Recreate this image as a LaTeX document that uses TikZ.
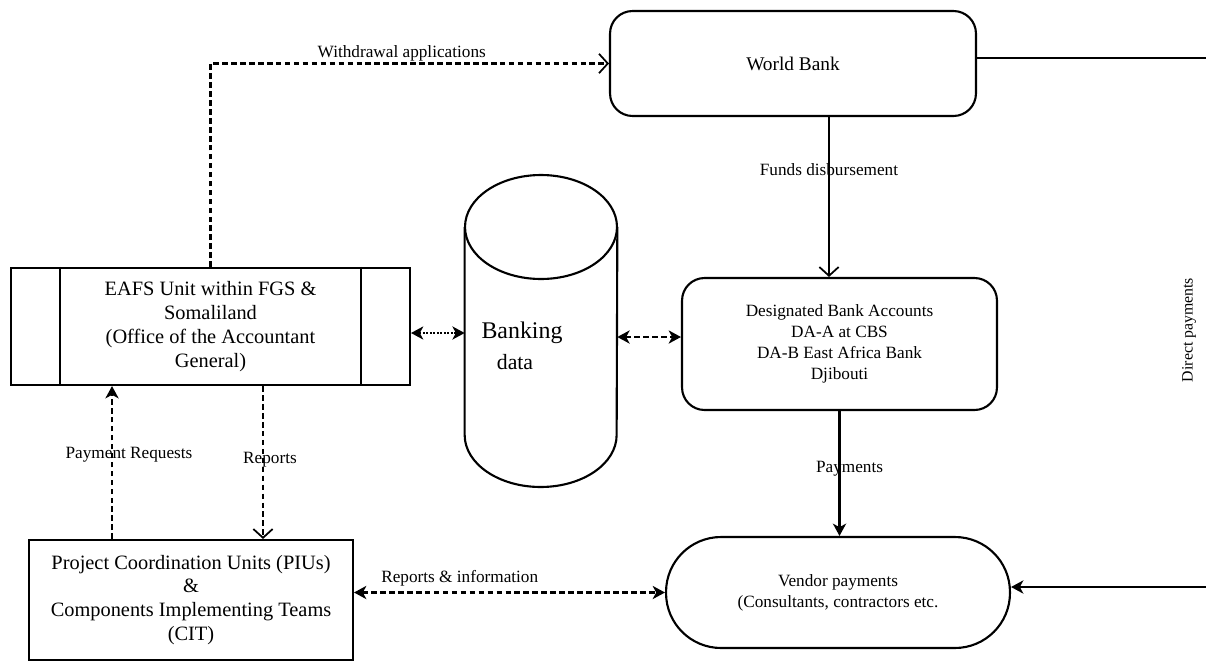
\documentclass[tikz,border=0pt]{standalone}
\usepackage{fontspec}
\usetikzlibrary{arrows.meta}
\setmainfont{Liberation Serif}
\newcommand{\bigtxt}{\fontsize{11.6}{13.6}\selectfont}
\newcommand{\midtxt}{\fontsize{9.8}{12}\selectfont}
\newcommand{\lbltxt}{\fontsize{9.8}{12}\selectfont}
\tikzset{
  stl/.tip={Stealth[length=7pt, width=7.5pt, inset=2pt]},
  opn/.tip={Straight Barb[length=5pt, width=11pt, line width=1pt]}
}

\begin{document}
\begin{tikzpicture}[x=0.02cm, y=-0.02cm]
  \tikzstyle{box}=[draw, line width=1.2pt, align=center, inner sep=0pt]
  \tikzstyle{rbox}=[box, rounded corners=0.45cm]
  \tikzstyle{lbl}=[font=\lbltxt, inner sep=1pt]
  \tikzstyle{dsh}=[dash pattern=on 3.2pt off 1.9pt, line width=1.2pt]
  \tikzstyle{arr}=[line width=1.3pt]
  \useasboundingbox (0,0) rectangle (1206,663);

  % boxes
  \node[rbox, minimum width=7.32cm, minimum height=2.1cm, font=\fontsize{11}{13}\selectfont] (wb) at (793,63.5) {World Bank};
  \node[rbox, minimum width=6.3cm, minimum height=2.64cm, font=\midtxt] (dba) at (839.5,344)
    {Designated Bank Accounts\\DA-A at CBS\\DA-B East Africa Bank\\Djibouti};
  \node[box, minimum width=7.98cm, minimum height=2.34cm, font=\bigtxt] (eafs) at (210.5,326.5)
    {EAFS Unit within FGS \&\\Somaliland\\(Office of the Accountant\\General)};
  \draw[line width=1.2pt] ([xshift=1cm]eafs.north west) -- ([xshift=1cm]eafs.south west);
  \draw[line width=1.2pt] ([xshift=-1cm]eafs.north east) -- ([xshift=-1cm]eafs.south east);
  \node[box, minimum width=6.48cm, minimum height=2.4cm, font=\bigtxt] (pcu) at (191,600)
    {Project Coordination Units (PIUs)\\\&\\Components Implementing Teams\\(CIT)};
  \node[box, rounded corners=1.1cm, minimum width=6.88cm, minimum height=2.22cm, font=\midtxt] (vendor) at (838,592.5)
    {Vendor payments\\(Consultants, contractors etc.};

  % banking data cylinder
  \node[minimum width=3.04cm, minimum height=6.24cm, inner sep=0pt] (bank) at (541,331) {};
  \draw[line width=1.2pt] (541,227) ellipse [x radius=1.52cm, y radius=1.04cm];
  \draw[line width=1.2pt] (bank.west |- 0,227) -- (bank.west |- 0,435)
    arc[start angle=180, end angle=360, x radius=1.52cm, y radius=1.04cm] -- (bank.east |- 0,227);
  \node[font=\fontsize{13.6}{16}\selectfont, inner sep=0pt] (banking) at (522,333) {Banking};
  \node[font=\fontsize{12.4}{15}\selectfont, inner sep=0pt] (data) at (515,362) {data};

  % flows
  \draw[dsh, -opn] (eafs.north) |- (wb.west)
    node[lbl, pos=0.74, above] {Withdrawal applications};
  \draw[arr, -opn] ([xshift=0.72cm]wb.south) -- ([xshift=0.72cm]wb.south |- dba.north)
    node[lbl, pos=0.33] {Funds disbursement};
  \draw[densely dotted, line width=1pt, stl-stl] ([yshift=-0.13cm]eafs.east) -- ([yshift=-0.13cm]eafs.east -| bank.west);
  \draw[dsh, stl-stl] ([yshift=0.14cm]dba.west -| bank.east) -- ([yshift=0.14cm]dba.west);
  \draw[arr, -stl] (dba.south) -- (dba.south |- vendor.north)
    node[lbl, pos=0.46, xshift=0.2cm] {Payments};
  \draw[dsh, -stl] ([xshift=-1.58cm]pcu.north) -- ([xshift=-1.58cm]pcu.north |- eafs.south)
    node[lbl, pos=0.55, xshift=0.34cm] {Payment Requests};
  \draw[dsh, -opn] ([xshift=1.05cm]eafs.south) -- ([xshift=1.05cm]eafs.south |- pcu.north)
    node[lbl, pos=0.48, xshift=0.14cm] {Reports};
  \draw[dsh, stl-stl] (pcu.east |- vendor.west) -- (vendor.west)
    node[lbl, pos=0.34, above=2pt] {Reports \& information};

  % direct payments
  \coordinate (dptop) at (1206,58);
  \coordinate (dpbot) at (1206,587);
  \draw[arr] (wb.east |- dptop) -- (dptop);
  \draw[arr, -stl] (dpbot) -- (dpbot -| vendor.east);
  \node[lbl, rotate=90, font=\fontsize{9}{11}\selectfont] (dp) at (1189,330) {Direct payments};
\end{tikzpicture}
\end{document}
